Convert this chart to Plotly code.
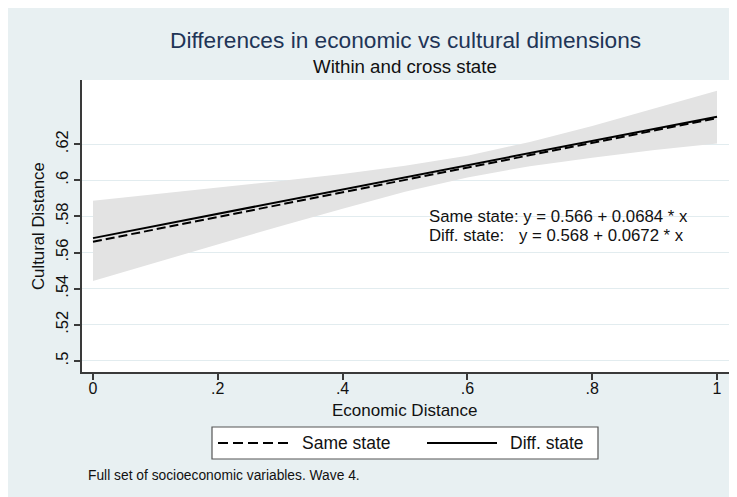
import plotly.graph_objects as go

# ---- data ----
band_x = [0.0, 0.1, 0.2, 0.3, 0.4, 0.5, 0.6, 0.7, 0.8, 0.9, 1.0]
band_upper = [0.5887, 0.5923, 0.5958, 0.5996, 0.6035, 0.6080, 0.6136, 0.6212, 0.6301, 0.6397, 0.6496]
band_lower = [0.5443, 0.5545, 0.5646, 0.5746, 0.5843, 0.5936, 0.6016, 0.6078, 0.6125, 0.6167, 0.6204]

line_x = [0.0, 1.0]
same_state_y = [0.566, 0.6344]
diff_state_y = [0.568, 0.6352]

x_tickvals = [0, 0.2, 0.4, 0.6, 0.8, 1]
x_ticktext = ["0", ".2", ".4", ".6", ".8", "1"]
y_tickvals = [0.5, 0.52, 0.54, 0.56, 0.58, 0.6, 0.62]
y_ticktext = [".5", ".52", ".54", ".56", ".58", ".6", ".62"]

title_text = "Differences in economic vs cultural dimensions"
subtitle_text = "Within and cross state"
note_text = "Full set of socioeconomic variables. Wave 4."

FONT = "Liberation Sans, Arial, sans-serif"
BG = "#E8F0F2"
AXIS = "#3a3a3a"
TXT = "#111111"

fig = go.Figure()

# CI band
fig.add_trace(go.Scatter(x=band_x, y=band_lower, mode="lines",
                         line=dict(width=0, color="rgba(0,0,0,0)"),
                         showlegend=False, hoverinfo="skip"))
fig.add_trace(go.Scatter(x=band_x, y=band_upper, mode="lines", fill="tonexty",
                         fillcolor="#E3E3E3", line=dict(width=0, color="rgba(0,0,0,0)"),
                         showlegend=False, hoverinfo="skip"))

# fitted lines
fig.add_trace(go.Scatter(x=line_x, y=diff_state_y, mode="lines", name="Diff. state",
                         line=dict(color="black", width=2), showlegend=False))
fig.add_trace(go.Scatter(x=line_x, y=same_state_y, mode="lines", name="Same state",
                         line=dict(color="black", width=2, dash="9px,4px"), showlegend=False))

OFF = 8  # page body margin
W, H = 737, 497
L, R, T, B = 74, 16, 72, 133
PW, PH = W - L - R, H - T - B


def px(page_x):
    return (page_x - OFF - L) / PW


def py(page_y):
    return (H - B - (page_y - OFF)) / PH


shapes = [
    # legend box
    dict(type="rect", xref="paper", yref="paper", x0=px(212), x1=px(598), y0=py(459), y1=py(427),
         fillcolor="white", line=dict(color="#555555", width=1.2)),
    # legend samples
    dict(type="line", xref="paper", yref="paper", x0=px(218), x1=px(290), y0=py(443), y1=py(443),
         line=dict(color="black", width=2, dash="10px,5px")),
    dict(type="line", xref="paper", yref="paper", x0=px(427), x1=px(497), y0=py(443), y1=py(443),
         line=dict(color="black", width=2)),
]


def ann(text, x, y, size, xanchor="left", color=TXT, **kw):
    return dict(text=text, x=x, xref="paper", y=y, yref="paper", showarrow=False,
                xanchor=xanchor, yanchor="middle",
                font=dict(size=size, color=color, family=FONT), **kw)


annotations = [
    ann(title_text, px(405), py(40), 22.7, xanchor="center", color="#1F3557"),
    ann(subtitle_text, px(405), py(67), 18.7, xanchor="center"),
    ann("Economic Distance", px(405), py(410), 17, xanchor="center"),
    ann("Cultural Distance", px(38), py(226), 16.8, xanchor="center", textangle=-90),
    ann("Same state: y = 0.566 + 0.0684 * x", px(427), py(216), 16.8),
    ann("Diff. state:", px(427), py(235), 16.8),
    ann("y = 0.568 + 0.0672 * x", px(517), py(235), 16.8),
    ann("Same state", px(300), py(443), 17.5),
    ann("Diff. state", px(508), py(443), 17.5),
    ann(note_text, px(86), py(475), 13.8),
]

fig.update_layout(
    width=W, height=H,
    margin=dict(l=L, r=R, t=T, b=B, pad=0),
    paper_bgcolor=BG, plot_bgcolor="white",
    showlegend=False,
    shapes=shapes, annotations=annotations,
    font=dict(family=FONT, size=14, color=TXT),
    xaxis=dict(range=[-0.0176, 1.0192], tickvals=x_tickvals, ticktext=x_ticktext,
               showgrid=False, zeroline=False, showline=True, linecolor=AXIS, linewidth=1.5,
               ticks="outside", ticklen=6, tickcolor=AXIS, tickwidth=1.5,
               ticklabelstandoff=-5,
               tickfont=dict(size=16, color=TXT, family=FONT)),
    yaxis=dict(range=[0.4939, 0.6555], tickvals=y_tickvals, ticktext=y_ticktext,
               showgrid=True, gridcolor="#E2ECEF", gridwidth=1, zeroline=False,
               showline=True, linecolor=AXIS, linewidth=1.5,
               ticks="outside", ticklen=6, tickcolor=AXIS, tickwidth=1.5, tickangle=-90,
               tickfont=dict(size=16.5, color=TXT, family=FONT)),
)

fig.write_html("out.html")
